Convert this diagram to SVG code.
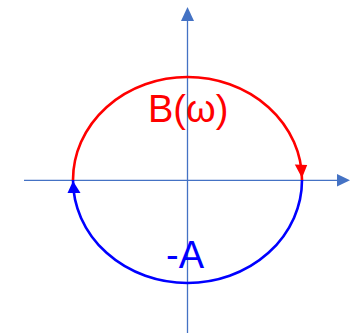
<svg xmlns="http://www.w3.org/2000/svg" width="354" height="334" viewBox="0 0 354 334">
<style>
.axis{stroke:#4472C4;stroke-width:1.3;fill:none}
.axhead{fill:#4472C4}
.lbl{font-family:"Liberation Sans","Open Sans",sans-serif;font-size:38px}
</style>
<rect width="354" height="334" fill="#fff"/>
<g id="axes">
<line class="axis" x1="24" y1="180.3" x2="338" y2="180.3"/>
<polygon class="axhead" points="350,180.3 337,174 337,186.6"/>
<line class="axis" x1="187.5" y1="333" x2="187.5" y2="20"/>
<polygon class="axhead" points="187.5,7 181,21 194,21"/>
</g>
<g id="connectors">
<path id="upper" d="M73,180 A114.5,103 0 0 1 302,180" fill="none" stroke="#FF0000" stroke-width="2.6"/>
<polygon points="302,178 294.8,164.5 307.2,165" fill="#FF0000"/>
<path id="lower" d="M302,180 A114.5,103 0 0 1 73,180" fill="none" stroke="#0000FF" stroke-width="2.6"/>
<polygon points="73,181 67.5,193 80.5,193" fill="#0000FF"/>
</g>
<g id="labelB">
<text class="lbl" x="148" y="122" fill="#FF0000">B(ω)</text>
</g>
<g id="labelA">
<text class="lbl" x="166" y="268" fill="#0000FF">-A</text>
</g>
</svg>
